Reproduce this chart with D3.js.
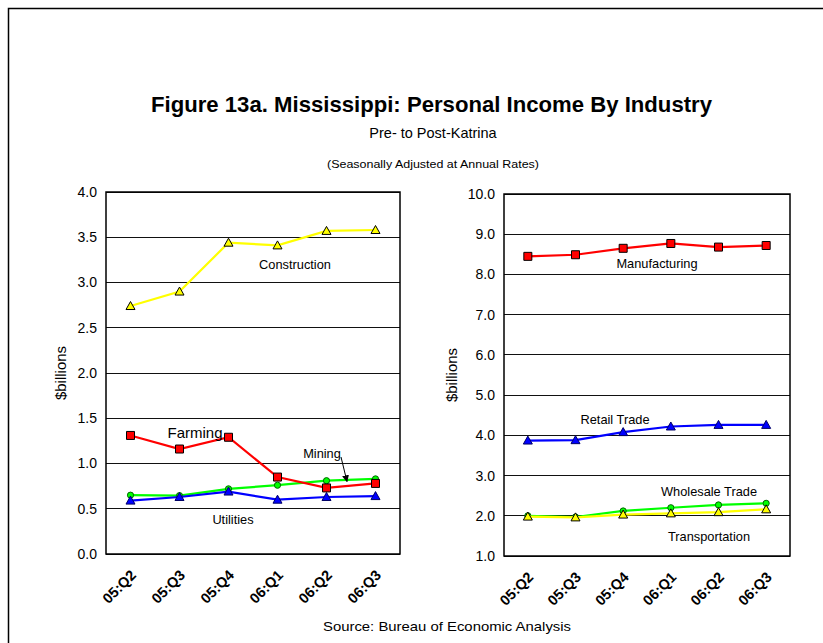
<!DOCTYPE html>
<html><head><meta charset="utf-8">
<script src="https://cdn.jsdelivr.net/npm/d3@7"></script>
<style>body{margin:0;background:#fff}svg{display:block;font-family:Arial,"Liberation Sans",sans-serif}</style>
</head><body><svg id="c" width="823" height="643"></svg>
<script>
const quarters = ["05:Q2","05:Q3","05:Q4","06:Q1","06:Q2","06:Q3"];
const leftTicks = [0,0.5,1.0,1.5,2.0,2.5,3.0,3.5,4.0];
const rightTicks = [1,2,3,4,5,6,7,8,9,10];
const construction = [2.74,2.90,3.44,3.41,3.57,3.58];
const farming = [1.31,1.16,1.29,0.85,0.73,0.78];
const mining = [0.65,0.645,0.72,0.76,0.81,0.83];
const utilities = [0.59,0.63,0.69,0.60,0.63,0.64];
const manufacturing = [8.45,8.49,8.65,8.77,8.68,8.72];
const retailTrade = [3.87,3.88,4.08,4.22,4.26,4.26];
const wholesaleTrade = [2.00,1.97,2.12,2.20,2.27,2.31];
const transportation = [1.98,1.96,2.03,2.06,2.09,2.16];

const svg = d3.select("#c");
svg.append("path").attr("d","M8.5,643 V8.5 H823").attr("fill","none").attr("stroke","#000").attr("stroke-width",1.5);

svg.append("text").attr("x",431.5).attr("y",112).attr("text-anchor","middle").attr("font-size",22).attr("font-weight","bold").attr("textLength",561).attr("lengthAdjust","spacingAndGlyphs").text("Figure 13a. Mississippi: Personal Income By Industry");
svg.append("text").attr("x",433).attr("y",138).attr("text-anchor","middle").attr("font-size",14.5).text("Pre- to Post-Katrina");
svg.append("text").attr("x",433).attr("y",168).attr("text-anchor","middle").attr("font-size",11).attr("textLength",212).attr("lengthAdjust","spacingAndGlyphs").text("(Seasonally Adjusted at Annual Rates)");
svg.append("text").attr("x",447).attr("y",631).attr("text-anchor","middle").attr("font-size",13.5).attr("textLength",248).attr("lengthAdjust","spacingAndGlyphs").text("Source: Bureau of Economic Analysis");

function panel(cfg){
  const x = d3.scalePoint().domain(quarters).range([cfg.x0,cfg.x1]).padding(0.5);
  const y = d3.scaleLinear().domain(cfg.domain).range([cfg.y1,cfg.y0]);
  const g = svg.append("g");
  g.selectAll("line.grid").data(cfg.ticks).join("line")
    .attr("x1",cfg.x0).attr("x2",cfg.x1).attr("y1",d=>y(d)).attr("y2",d=>y(d))
    .attr("stroke","#111").attr("stroke-width",1).attr("shape-rendering","crispEdges");
  g.append("rect").attr("x",cfg.x0).attr("y",cfg.y0).attr("width",cfg.x1-cfg.x0).attr("height",cfg.y1-cfg.y0)
    .attr("fill","none").attr("stroke","#000").attr("stroke-width",1.5);
  const ya = d3.axisLeft(y).tickValues(cfg.ticks).tickFormat(d3.format(".1f")).tickSize(0).tickPadding(9);
  const yg = g.append("g").attr("transform",`translate(${cfg.x0},0)`).call(ya);
  yg.select(".domain").remove();
  yg.selectAll("text").attr("font-size",14).attr("fill","#000").attr("font-family","Arial, Liberation Sans, sans-serif");
  const xa = d3.axisBottom(x).tickSize(0).tickPadding(0);
  const xg = g.append("g").attr("transform",`translate(0,${cfg.y1})`).call(xa);
  xg.select(".domain").remove();
  xg.selectAll("text").attr("font-size",14.5).attr("font-weight","bold").attr("fill","#000")
    .attr("font-family","Arial, Liberation Sans, sans-serif")
    .attr("text-anchor","end").attr("dy",0)
    .attr("transform","translate(6,22) rotate(-45)");
  g.append("text").attr("transform",`translate(${cfg.lx},${(cfg.y0+cfg.y1)/2}) rotate(-90)`)
    .attr("text-anchor","middle").attr("font-size",15).text("$billions");
  const line = d3.line().x((d,i)=>x(quarters[i])).y(d=>y(d));
  cfg.series.forEach(s=>{
    g.append("path").datum(s.values).attr("d",line).attr("fill","none").attr("stroke",s.color).attr("stroke-width",2.2);
    const m = g.selectAll(null).data(s.values).join("path")
      .attr("transform",(d,i)=>`translate(${x(quarters[i])},${y(d)})`)
      .attr("fill",s.color).attr("stroke",s.edge||"#000").attr("stroke-width",1);
    if(s.marker==="square") m.attr("d","M-4,-4H4V4H-4Z");
    else if(s.marker==="triangle") m.attr("d","M0,-4.5L4.5,3.5H-4.5Z");
    else m.attr("d",d3.symbol(d3.symbolCircle,30)());
  });
  (cfg.labels||[]).forEach(l=>{
    g.append("text").attr("x",l.x).attr("y",l.y).attr("text-anchor","middle").attr("font-size",l.size||12.8).text(l.text);
  });
  return {x,y,g};
}

const L = panel({x0:106,x1:400,y0:192,y1:554,domain:[0,4],ticks:leftTicks,lx:66,
  series:[
    {values:construction,color:"#ffff00",marker:"triangle"},
    {values:mining,color:"#00ff00",marker:"circle",edge:"#006600"},
    {values:utilities,color:"#0000ff",marker:"triangle",edge:"#000066"},
    {values:farming,color:"#ff0000",marker:"square"}
  ],
  labels:[{text:"Construction",x:295,y:269},{text:"Farming",x:195,y:438,size:15},{text:"Mining",x:322,y:458},{text:"Utilities",x:233,y:524}]
});
svg.append("defs").append("marker").attr("id","ah").attr("viewBox","0 0 10 10").attr("refX",9).attr("refY",5)
  .attr("markerWidth",7).attr("markerHeight",7).attr("orient","auto")
  .append("path").attr("d","M0,0L10,5L0,10Z").attr("fill","#000");
svg.append("line").attr("x1",341).attr("y1",457).attr("x2",347).attr("y2",L.y(0.80)).attr("stroke","#000").attr("stroke-width",1).attr("marker-end","url(#ah)");

panel({x0:504,x1:790,y0:194,y1:556,domain:[1,10],ticks:rightTicks,lx:457,
  series:[
    {values:manufacturing,color:"#ff0000",marker:"square"},
    {values:retailTrade,color:"#0000ff",marker:"triangle",edge:"#000066"},
    {values:wholesaleTrade,color:"#00ff00",marker:"circle",edge:"#006600"},
    {values:transportation,color:"#ffff00",marker:"triangle"}
  ],
  labels:[{text:"Manufacturing",x:657,y:268},{text:"Retail Trade",x:615,y:424},{text:"Wholesale Trade",x:709,y:496},{text:"Transportation",x:709,y:541}]
});
</script></body></html>
